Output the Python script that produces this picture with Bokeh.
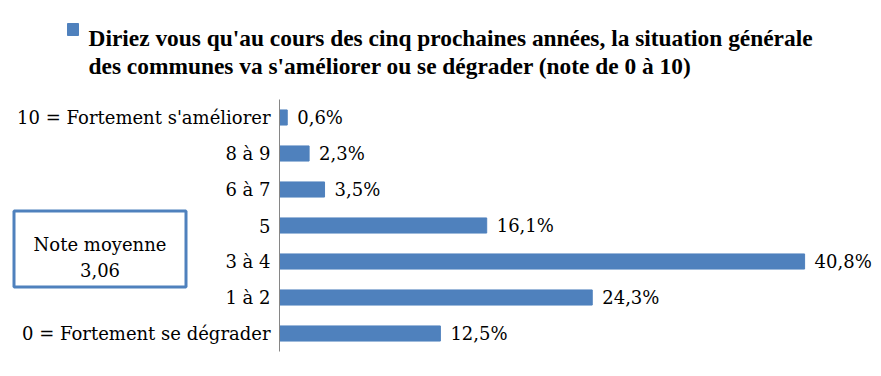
from bokeh.plotting import figure
from bokeh.models import Range1d, ColumnDataSource
from bokeh.core.properties import value
from bokeh.embed import file_html
from bokeh.resources import INLINE

categories = ["0 = Fortement se dégrader", "1 à 2", "3 à 4", "5", "6 à 7", "8 à 9",
              "10 = Fortement s'améliorer"]
values = [12.5, 24.3, 40.8, 16.1, 3.5, 2.3, 0.6]
title_lines = ["Diriez vous qu'au cours des cinq prochaines années, la situation générale",
               "des communes va s'améliorer ou se dégrader (note de 0 à 10)"]
note_lines = ["Note moyenne", "3,06"]

BLUE = "#4F81BD"
FONT = "DejaVu Serif"
TITLE_FONT = "Liberation Serif"
FS = "18px"

# canvas geometry (pixels)
W, H = 875, 370
AX_X = 279          # pixel position of value 0
PX_PER_PCT = 12.87  # pixels per percentage point
TOP = 99            # pixel top of the category band area
BAND = 36.0         # pixels per category
n = len(categories)

x0 = -AX_X / PX_PER_PCT
x1 = (W - AX_X) / PX_PER_PCT
ytop = (n - 0.5) + TOP / BAND
ybot = (n - 0.5) - (H - TOP) / BAND

p = figure(width=W, height=H, output_backend="svg", toolbar_location=None,
           x_range=Range1d(x0, x1), y_range=Range1d(ybot, ytop),
           min_border=0, x_axis_location=None, y_axis_location=None)
p.outline_line_color = None
p.xgrid.visible = False
p.ygrid.visible = False

def dx(px):
    return (px - AX_X) / PX_PER_PCT
def dy(py):
    return (n - 0.5) - (py - TOP) / BAND

ys = list(range(n))
labels = [f"{v:.1f}".replace(".", ",") + "%" for v in values]
src = ColumnDataSource(dict(y=ys, v=values, lab=labels, cat=categories,
                            zero=[0] * n))
p.hbar(y="y", right="v", left=0, height=0.42, source=src, color=BLUE)
p.text(x="v", y="y", text="lab", source=src, x_offset=10, text_baseline="middle",
       text_align="left", text_font=value(FONT), text_font_size=FS, text_color="black")
# category axis: line + labels
p.segment(x0=0, y0=-0.5, x1=0, y1=n - 0.5, line_color="#868686", line_width=1)
p.text(x="zero", y="y", text="cat", source=src, x_offset=-9, text_baseline="middle",
       text_align="right", text_font=value(FONT), text_font_size=FS, text_color="black")

# legend square and text
p.quad(left=dx(67), right=dx(78), top=dy(23), bottom=dy(35), color=BLUE)
p.text(x=[dx(88)] * 2, y=[dy(37), dy(65)], text=title_lines, text_font=value(TITLE_FONT),
       text_font_size="23.4px", text_font_style="bold", text_baseline="alphabetic",
       text_align="left", text_color="black")

# note box
p.quad(left=dx(13.5), right=dx(185.5), top=dy(210.5), bottom=dy(286.5),
       fill_color="white", line_color=BLUE, line_width=3)
p.text(x=[dx(99.5)] * 2, y=[dy(244), dy(269)], text=note_lines, text_font=value(FONT),
       text_font_size=FS, text_baseline="alphabetic", text_align="center",
       text_color="black")

open("out.html", "w").write(file_html(p, INLINE))
